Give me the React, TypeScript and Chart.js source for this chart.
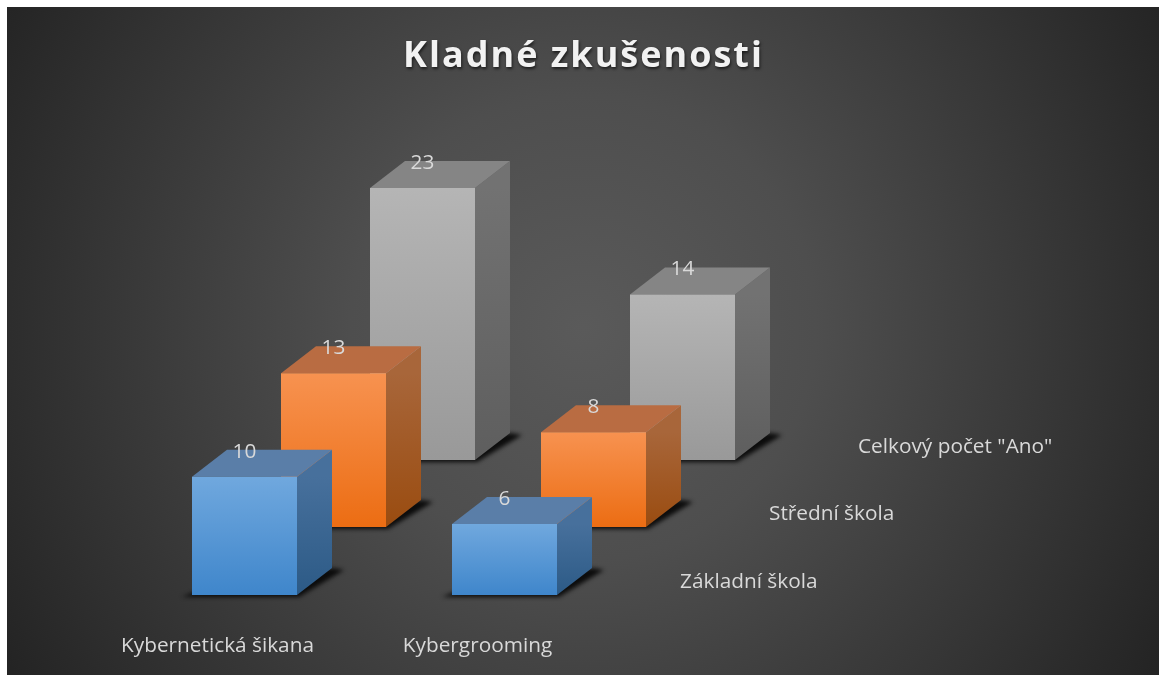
import React, { useEffect, useRef } from "react";
import { Chart, registerables } from "chart.js";

Chart.register(...registerables);

const titleText = "Kladné zkušenosti";
const categories = ["Kybernetická šikana", "Kybergrooming"];
const seriesNames = ["Základní škola", "Střední škola", 'Celkový počet "Ano"'];
const primarySchool = [10, 6];
const secondarySchool = [13, 8];
const totalYes = [23, 14];

const FONT = '"Open Sans", sans-serif';
const TEXT = "#d9d9d9";
const DX = 35;
const DY = 27;
const LABEL_SIZE = 20.8;

const palettes = [
  { front: ["#70a8de", "#3f86cb"], side: ["#47709c", "#2c5a86"], top: "#5a7ea8" },
  { front: ["#f79250", "#ec6d13"], side: ["#a8663a", "#9a4c10"], top: "#b96c42" },
  { front: ["#b5b5b5", "#999999"], side: ["#727272", "#5e5e5e"], top: "#858585" },
];

const yAxes = [
  { id: "y0", min: -1.86, max: 41.84 },
  { id: "y1", min: -7.61, max: 36.09 },
  { id: "y2", min: -13.27, max: 30.43 },
];

function frontColor(c: any) {
  const i = c.datasetIndex;
  const scale = c.chart.scales[yAxes[i].id];
  const raw = c.raw;
  if (!c.chart.chartArea || !scale || raw == null) return palettes[i].front[1];
  const g = c.chart.ctx.createLinearGradient(0, scale.getPixelForValue(raw), 0, scale.getPixelForValue(0));
  g.addColorStop(0, palettes[i].front[0]);
  g.addColorStop(1, palettes[i].front[1]);
  return g;
}

const cubePlugin = {
  id: "cube",
  beforeDraw(chart: any) {
    const { ctx, width, height } = chart;
    const cx = width * 0.5;
    const cy = height * 0.48;
    const r = Math.hypot(width, height) * 0.5;
    const g = ctx.createRadialGradient(cx, cy, 0, cx, cy, r);
    g.addColorStop(0, "#5a5a5a");
    g.addColorStop(0.35, "#4e4e4e");
    g.addColorStop(1, "#242424");
    ctx.save();
    ctx.fillStyle = g;
    ctx.fillRect(0, 0, width, height);
    ctx.restore();
  },
  beforeDatasetDraw(chart: any, args: any) {
    const { ctx } = chart;
    const i = args.index;
    const p = palettes[i];
    chart.getDatasetMeta(i).data.forEach((bar: any) => {
      const half = bar.width / 2;
      const l = bar.x - half;
      const r = bar.x + half;
      const t = bar.y;
      const b = bar.base;
      ctx.save();
      ctx.filter = "blur(2px)";
      ctx.fillStyle = "rgba(8,8,8,0.95)";
      ctx.beginPath();
      ctx.moveTo(l - 10, b + 2);
      ctx.lineTo(r + 2, b + 2);
      ctx.lineTo(r + DX + 12, b - DY + 2);
      ctx.lineTo(r + DX, b - DY);
      ctx.lineTo(l, b - 2);
      ctx.closePath();
      ctx.fill();
      ctx.restore();

      ctx.save();
      const sg = ctx.createLinearGradient(0, t, 0, b);
      sg.addColorStop(0, p.side[0]);
      sg.addColorStop(1, p.side[1]);
      ctx.fillStyle = sg;
      ctx.beginPath();
      ctx.moveTo(r, t);
      ctx.lineTo(r + DX, t - DY);
      ctx.lineTo(r + DX, b - DY);
      ctx.lineTo(r, b);
      ctx.closePath();
      ctx.fill();
      ctx.fillStyle = p.top;
      ctx.beginPath();
      ctx.moveTo(l, t);
      ctx.lineTo(l + DX, t - DY);
      ctx.lineTo(r + DX, t - DY);
      ctx.lineTo(r, t);
      ctx.closePath();
      ctx.fill();
      ctx.restore();
    });
  },
  afterDatasetsDraw(chart: any) {
    const { ctx } = chart;
    ctx.save();
    ctx.fillStyle = TEXT;
    ctx.font = `${LABEL_SIZE}px ${FONT}`;
    ctx.textBaseline = "middle";
    chart.data.datasets.forEach((ds: any, i: number) => {
      const bars = chart.getDatasetMeta(i).data;
      ctx.textAlign = "center";
      bars.forEach((bar: any, k: number) => {
        ctx.fillText(String(ds.data[k]), bar.x, bar.y - 25);
      });
      const last = bars[bars.length - 1];
      ctx.textAlign = "left";
      ctx.fillText(ds.label, last.x + last.width / 2 + 123, last.base - 12.5);
    });
    ctx.restore();

    ctx.save();
    ctx.font = `bold 36px ${FONT}`;
    ctx.textAlign = "center";
    ctx.textBaseline = "middle";
    (ctx as any).letterSpacing = "2px";
    ctx.fillStyle = "#f2f2f2";
    ctx.shadowColor = "rgba(0,0,0,0.6)";
    ctx.shadowBlur = 3;
    ctx.shadowOffsetX = 1;
    ctx.shadowOffsetY = 1.5;
    ctx.fillText(titleText, 576.5, 50);
    ctx.restore();
  },
};

export default function App() {
  const ref = useRef<HTMLCanvasElement>(null);
  useEffect(() => {
    const chart = new Chart(ref.current as HTMLCanvasElement, {
      type: "bar",
      data: {
        labels: categories,
        datasets: [primarySchool, secondarySchool, totalYes].map((data, i) => ({
          label: seriesNames[i],
          data,
          yAxisID: yAxes[i].id,
          backgroundColor: frontColor,
          categoryPercentage: 1.026923,
          barPercentage: 1.179775,
          clip: false,
        })),
      },
      options: {
        animation: false,
        responsive: false,
        devicePixelRatio: 1,
        layout: { padding: { left: 196.5, right: 435.5, top: 93, bottom: 0 }, autoPadding: false },
        plugins: { legend: { display: false }, title: { display: false }, tooltip: { enabled: false } },
        scales: {
          x: {
            grid: { display: false },
            border: { display: false },
            afterFit: (s: any) => {
              s.height = 58;
            },
            ticks: {
              color: TEXT,
              font: { family: FONT, size: LABEL_SIZE },
              padding: 9,
              labelOffset: -116,
              autoSkip: false,
              maxRotation: 0,
            },
          },
          ...Object.fromEntries(
            yAxes.map((a) => [a.id, { display: false, min: a.min, max: a.max, grid: { display: false } }])
          ),
        },
      } as any,
      plugins: [cubePlugin],
    });
    return () => chart.destroy();
  }, []);
  return (
    <canvas
      ref={ref}
      width={1152}
      height={668}
      style={{ position: "absolute", left: 7, top: 7, display: "block" }}
    />
  );
}
